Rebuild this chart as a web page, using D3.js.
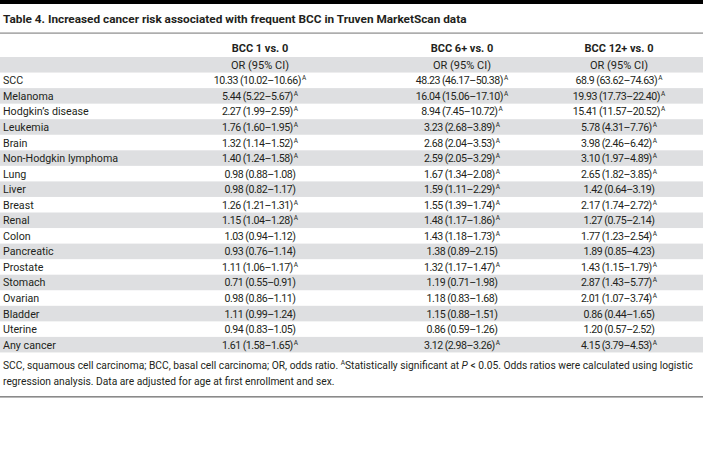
<!DOCTYPE html>
<html>
<head>
<meta charset="utf-8">
<script src="https://cdn.jsdelivr.net/npm/d3@7"></script>
<style>
  html, body { margin: 0; padding: 0; background: #ffffff; overflow: hidden; }
  svg { display: block; }
  text { font-family: Roboto, "Noto Sans", sans-serif; fill: #231f20; }
</style>
</head>
<body>
<script>
// ---- data ----
const title = "Table 4. Increased cancer risk associated with frequent BCC in Truven MarketScan data";
const columns = ["BCC 1 vs. 0", "BCC 6+ vs. 0", "BCC 12+ vs. 0"];
const subHeader = "OR (95% CI)";
const categories = ["SCC", "Melanoma", "Hodgkin\u2019s disease", "Leukemia", "Brain", "Non-Hodgkin lymphoma",
  "Lung", "Liver", "Breast", "Renal", "Colon", "Pancreatic", "Prostate", "Stomach", "Ovarian",
  "Bladder", "Uterine", "Any cancer"];

const or1  = ["10.33","5.44","2.27","1.76","1.32","1.40","0.98","0.98","1.26","1.15","1.03","0.93","1.11","0.71","0.98","1.11","0.94","1.61"];
const lo1  = ["10.02","5.22","1.99","1.60","1.14","1.24","0.88","0.82","1.21","1.04","0.94","0.76","1.06","0.55","0.86","0.99","0.83","1.58"];
const hi1  = ["10.66","5.67","2.59","1.95","1.52","1.58","1.08","1.17","1.31","1.28","1.12","1.14","1.17","0.91","1.11","1.24","1.05","1.65"];
const sig1 = [1,1,1,1,1,1,0,0,1,1,0,0,1,0,0,0,0,1];

const or2  = ["48.23","16.04","8.94","3.23","2.68","2.59","1.67","1.59","1.55","1.48","1.43","1.38","1.32","1.19","1.18","1.15","0.86","3.12"];
const lo2  = ["46.17","15.06","7.45","2.68","2.04","2.05","1.34","1.11","1.39","1.17","1.18","0.89","1.17","0.71","0.83","0.88","0.59","2.98"];
const hi2  = ["50.38","17.10","10.72","3.89","3.53","3.29","2.08","2.29","1.74","1.86","1.73","2.15","1.47","1.98","1.68","1.51","1.26","3.26"];
const sig2 = [1,1,1,1,1,1,1,1,1,1,1,0,1,0,0,0,0,1];

const or3  = ["68.9","19.93","15.41","5.78","3.98","3.10","2.65","1.42","2.17","1.27","1.77","1.89","1.43","2.87","2.01","0.86","1.20","4.15"];
const lo3  = ["63.62","17.73","11.57","4.31","2.46","1.97","1.82","0.64","1.74","0.75","1.23","0.85","1.15","1.43","1.07","0.44","0.57","3.79"];
const hi3  = ["74.63","22.40","20.52","7.76","6.42","4.89","3.85","3.19","2.72","2.14","2.54","4.23","1.79","5.77","3.74","1.65","2.52","4.53"];
const sig3 = [1,1,1,1,1,1,1,0,1,0,1,0,1,1,1,0,0,1];

const footnote1a = "SCC, squamous cell carcinoma; BCC, basal cell carcinoma; OR, odds ratio. ";
const footnote1b = "Statistically significant at ";
const footnote1c = " < 0.05. Odds ratios were calculated using logistic";
const footnote2  = "regression analysis. Data are adjusted for age at first enrollment and sex.";

// ---- layout ----
const W = 703, H = 453;
const svg = d3.select("body").append("svg").attr("width", W).attr("height", H);

const colData = [
  {or: or1, lo: lo1, hi: hi1, sig: sig1},
  {or: or2, lo: lo2, hi: hi2, sig: sig2},
  {or: or3, lo: lo3, hi: hi3, sig: sig3}
];

const rowKeys = ["__sub"].concat(categories);
const y = d3.scaleBand().domain(d3.range(rowKeys.length)).range([57, 57 + 15.55 * rowKeys.length]).padding(0);
// column centres (columns are not equally wide in the reference)
const x = d3.scaleOrdinal().domain(d3.range(columns.length)).range([260, 462, 619]);

// top black bar
svg.append("rect").attr("x", 0).attr("y", 0).attr("width", W).attr("height", 4).attr("fill", "#000");

// title
svg.append("text").attr("x", 3).attr("y", 23)
  .attr("font-size", 11.8).attr("font-weight", 700).text(title);

// line under title
svg.append("rect").attr("x", 0).attr("y", 32.5).attr("width", W).attr("height", 1.2).attr("fill", "#8a8a8a");

// stripes
svg.selectAll("rect.stripe").data(rowKeys.map((d, i) => i).filter(i => i % 2 === 0))
  .enter().append("rect").attr("class", "stripe")
  .attr("x", 0).attr("width", W)
  .attr("y", i => y(i)).attr("height", y.bandwidth())
  .attr("fill", "#dedfe1");

// column headers
svg.selectAll("text.colhead").data(columns).enter().append("text")
  .attr("class", "colhead")
  .attr("x", (d, i) => x(i))
  .attr("y", 52).attr("text-anchor", "middle")
  .attr("font-size", 11).attr("font-weight", 700).text(d => d);

// sub headers
svg.selectAll("text.sub").data(columns).enter().append("text")
  .attr("class", "sub")
  .attr("x", (d, i) => x(i))
  .attr("y", y(0) + y.bandwidth() / 2 + 4).attr("text-anchor", "middle")
  .attr("font-size", 11).text(subHeader);

// row labels
svg.selectAll("text.rowlab").data(categories).enter().append("text")
  .attr("class", "rowlab")
  .attr("x", 3)
  .attr("y", (d, i) => y(i + 1) + y.bandwidth() / 2 + 4)
  .attr("font-size", 10.7).text(d => d);

// cells
colData.forEach((c, ci) => {
  const cells = svg.selectAll("text.cell" + ci).data(categories).enter().append("text")
    .attr("class", "cell" + ci)
    .attr("x", x(ci))
    .attr("y", (d, i) => y(i + 1) + y.bandwidth() / 2 + 4)
    .attr("text-anchor", "middle")
    .attr("font-size", 10.6)
    .attr("letter-spacing", -0.5);
  cells.each(function(d, i) {
    const t = d3.select(this);
    t.append("tspan").text(c.or[i] + " (" + c.lo[i] + "\u2013" + c.hi[i] + ")");
    if (c.sig[i]) {
      t.append("tspan").attr("font-size", 6.5).attr("letter-spacing", 0).attr("dx", 1).attr("dy", -4).text("A");
    }
  });
});

// footnote
const f1 = svg.append("text").attr("x", 3).attr("y", 369).attr("font-size", 10.25);
f1.append("tspan").text(footnote1a);
f1.append("tspan").attr("font-size", 6.5).attr("dy", -4).text("A");
f1.append("tspan").attr("dy", 4).text(footnote1b);
f1.append("tspan").attr("font-style", "italic").text("P");
f1.append("tspan").text(footnote1c);
svg.append("text").attr("x", 3).attr("y", 385).attr("font-size", 10.25).text(footnote2);

// bottom line
svg.append("rect").attr("x", 0).attr("y", 396).attr("width", W).attr("height", 1.6).attr("fill", "#8a8a8a");
</script>
</body>
</html>
